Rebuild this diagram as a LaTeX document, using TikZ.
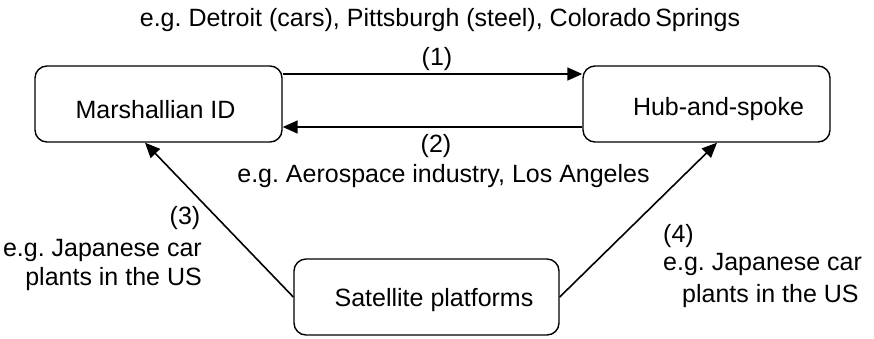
\documentclass[tikz,border=0pt]{standalone}
\usepackage{fontspec}
\setmainfont{Liberation Sans}
\usetikzlibrary{arrows.meta}
\frenchspacing

\begin{document}
\begin{tikzpicture}[x=1pt, y=-1pt,
  box/.style={draw, rounded corners=12pt, line width=1.4pt, inner sep=0pt,
              minimum width=247pt, minimum height=76pt},
  lbl/.style={inner sep=0pt, anchor=base, font=\fontsize{25}{30}\selectfont},
  arr/.style={line width=1.6pt, -{Triangle[length=15pt, width=13pt]}}]
  \useasboundingbox (0,0) rectangle (874,338);

  % the three boxes
  \node[box] (mid) at (158.5,104) {};
  \node[box] (hub) at (706.5,104) {};
  \node[box, minimum width=265pt] (sat) at (426.5,297) {};

  % box texts
  \node[lbl] (midtxt) at (155.5,118) {Marshallian ID};
  \node[lbl] (hubtxt) at (718.5,115) {Hub-and-spoke};
  \node[lbl] (sattxt) at (434,306) {Satellite platforms};

  % connectors
  \draw[arr] ([yshift=30pt]mid.east) -- ([yshift=30pt]hub.west);
  \draw[arr] ([yshift=-23pt]hub.west) -- ([yshift=-23pt]mid.east);
  \draw[arr] (sat.west) -- ([xshift=-13.5pt]mid.south);
  \draw[arr] (sat.east) -- ([xshift=10.5pt]hub.south);

  % edge labels
  \node[lbl] (ex1) at (440,26) {e.g. Detroit (cars), Pittsburgh (steel), Colorado\,Springs};
  \node[lbl] (n1) at (437,65) {(1)};
  \node[lbl] (n2) at (436,152) {(2)};
  \node[lbl] (ex2) at (443.5,182) {e.g. Aerospace industry, Los Angeles};
  \node[lbl] (n3) at (185,224) {(3)};
  \node[lbl, anchor=base east] (ex3a) at (202,256) {e.g. Japanese car};
  \node[lbl, anchor=base east] (ex3b) at (202,285) {plants in the US};
  \node[lbl, anchor=base west] (n4) at (663,242) {(4)};
  \node[lbl, anchor=base west] (ex4a) at (663,270) {e.g. Japanese car};
  \node[lbl, anchor=base west] (ex4b) at (682,302) {plants in the US};
\end{tikzpicture}
\end{document}
